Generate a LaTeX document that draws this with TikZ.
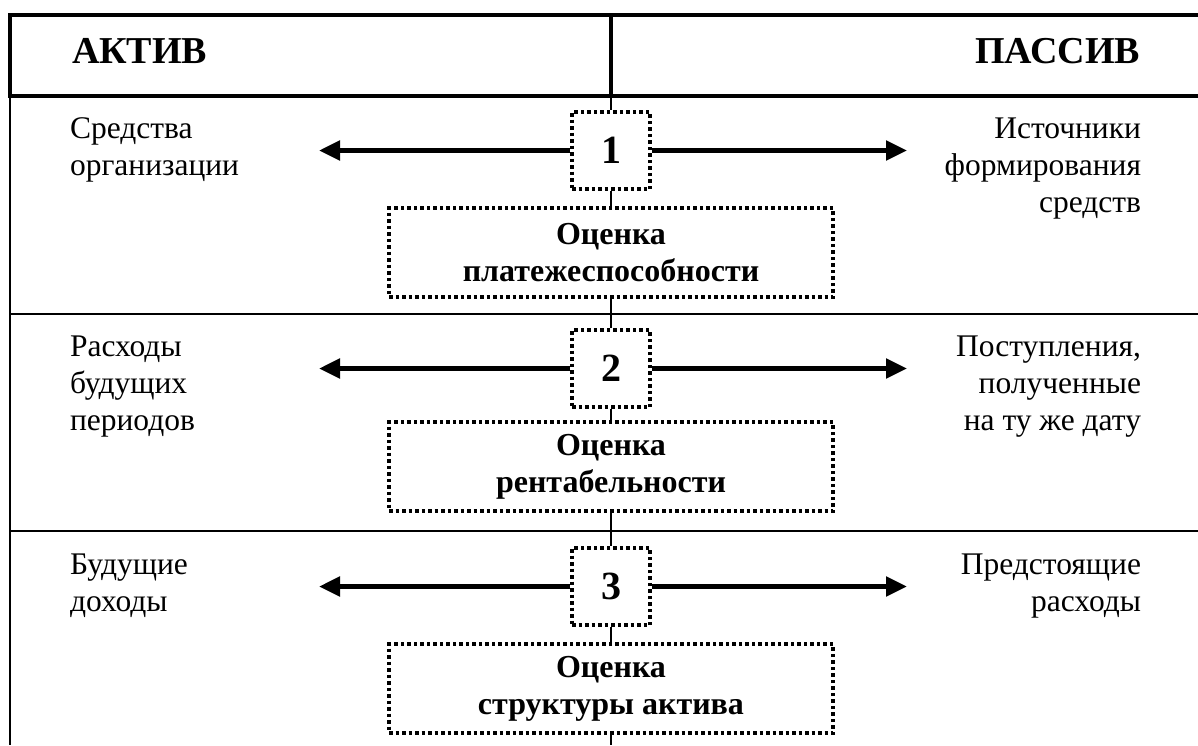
\documentclass[tikz,border=0pt]{standalone}
\usepackage{fontspec}
\setmainfont{Liberation Serif}
\usetikzlibrary{arrows.meta}

\begin{document}
\begin{tikzpicture}[x=1pt, y=-1pt, line width=2pt,
    numbox/.style={draw, line width=3.5pt, dash pattern=on 3.5pt off 3pt, fill=white,
      minimum width=78pt, minimum height=77pt, inner sep=0pt,
      font=\fontsize{40}{40}\selectfont\bfseries},
    evalbox/.style={draw, line width=3.5pt, dash pattern=on 3.5pt off 3pt, fill=white,
      minimum width=444pt, minimum height=89pt, inner sep=0pt, align=center,
      font=\fontsize{32}{37}\selectfont\bfseries},
    lefttext/.style={anchor=north west, align=left, inner sep=0pt,
      font=\fontsize{31.5}{37}\selectfont},
    righttext/.style={anchor=north east, align=right, inner sep=0pt,
      font=\fontsize{31.5}{37}\selectfont},
    headtext/.style={inner sep=0pt, font=\fontsize{38}{38}\selectfont\bfseries},
    flow/.style={line width=5pt, -{Triangle[length=21pt, width=19pt]}}]
    \useasboundingbox (0, 0) rectangle (1198, 745);

    % draw header frame
    \draw[line width=4.5pt] (1198, 15) -- (10, 15) -- (10, 96) -- (1198, 96);
    \draw[line width=4.5pt] (611, 15) -- (611, 96);
    \node[headtext, anchor=base west] (aktiv) at (71, 63) {АКТИВ};
    \node[headtext, anchor=base east] (passiv) at (1141, 63) {ПАССИВ};

    % draw row lines
    \draw (10, 96) -- (10, 745);
    \draw (10, 314) -- (1198, 314);
    \draw (10, 531) -- (1198, 531);

    % draw numbered boxes and evaluation boxes
    \node[numbox] (num1) at (611, 150.5) {1};
    \node[evalbox] (eval1) at (611, 252.5) {Оценка\\платежеспособности};
    \node[numbox] (num2) at (611, 368.5) {2};
    \node[evalbox] (eval2) at (611, 466.5) {Оценка\\рентабельности};
    \node[numbox] (num3) at (611, 586.5) {3};
    \node[evalbox] (eval3) at (611, 688.5) {Оценка\\структуры актива};

    % draw center line
    \coordinate (top) at (611, 96);
    \coordinate (bottom) at (611, 745);
    \draw (top) -- (num1) -- (eval1) -- (num2) -- (eval2) -- (num3) -- (eval3) -- (bottom);

    % draw side texts
    \node[lefttext] (act1) at (69, 117) {Средства\\организации};
    \node[righttext] (pas1) at (1142, 117) {Источники\\формирования\\средств};
    \node[lefttext] (act2) at (69, 335) {Расходы\\будущих\\периодов};
    \node[righttext] (pas2) at (1142, 335) {Поступления,\\полученные\\на ту же дату};
    \node[lefttext] (act3) at (69, 553) {Будущие\\доходы};
    \node[righttext] (pas3) at (1142, 553) {Предстоящие\\расходы};

    % draw arrows
    \coordinate (left1) at (319, 150.5);
    \coordinate (right1) at (907, 150.5);
    \coordinate (left2) at (319, 368.5);
    \coordinate (right2) at (907, 368.5);
    \coordinate (left3) at (319, 586.5);
    \coordinate (right3) at (907, 586.5);
    \draw[flow] (num1) -- (left1);
    \draw[flow] (num1) -- (right1);
    \draw[flow] (num2) -- (left2);
    \draw[flow] (num2) -- (right2);
    \draw[flow] (num3) -- (left3);
    \draw[flow] (num3) -- (right3);

\end{tikzpicture}
\end{document}
